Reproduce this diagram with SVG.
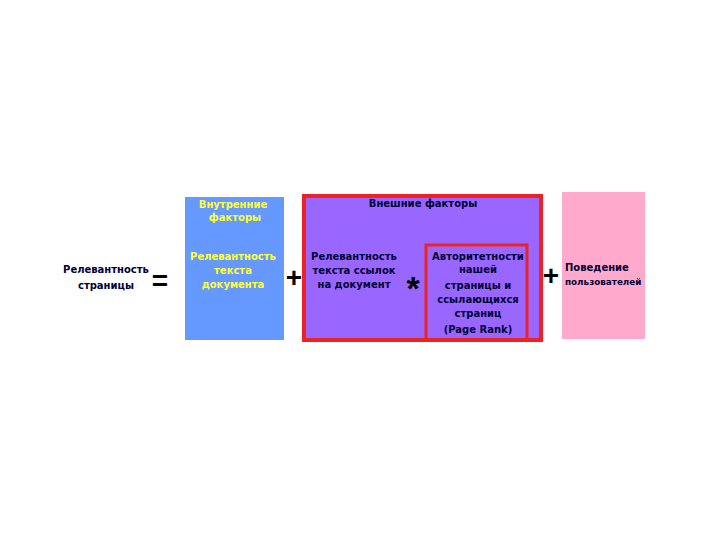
<svg xmlns="http://www.w3.org/2000/svg" width="720" height="540" viewBox="0 0 720 540">
<style>
text{font-family:"DejaVu Sans","Liberation Sans",sans-serif;font-weight:bold;font-size:10px;text-anchor:middle;fill:#000033}
.y{fill:#ffff33}
.op{font-family:"Liberation Sans",sans-serif;font-size:28px;fill:#000}
.l{text-anchor:start}
</style>
<rect width="720" height="540" fill="#fff"/>
<g id="relevance">
<text x="106" y="273">Релевантность</text>
<text x="106" y="289">страницы</text>
</g>
<g id="internal">
<rect x="185" y="197" width="99" height="143" fill="#6699ff"/>
<text class="y" x="233" y="208">Внутренние</text>
<text class="y" x="235" y="221">факторы</text>
<text class="y" x="233" y="260">Релевантность</text>
<text class="y" x="233" y="274">текста</text>
<text class="y" x="233" y="288">документа</text>
</g>
<g id="external">
<rect x="304" y="196" width="237" height="144" fill="#9966ff" stroke="#ee2222" stroke-width="4"/>
<text x="423" y="207">Внешние факторы</text>
<text x="354" y="260">Релевантность</text>
<text x="354" y="274">текста ссылок</text>
<text x="354" y="288">на документ</text>
</g>
<g id="authority">
<rect x="426" y="245" width="101" height="95" fill="none" stroke="#ee2222" stroke-width="3"/>
<text x="478" y="260">Авторитетности</text>
<text x="478" y="273">нашей</text>
<text x="478" y="289">страницы и</text>
<text x="478" y="303">ссылающихся</text>
<text x="478" y="317">страниц</text>
<text x="478" y="333">(Page Rank)</text>
</g>
<g id="behavior">
<rect x="562" y="192" width="83" height="147" fill="#ffaacc"/>
<text class="l" x="565" y="271">Поведение</text>
<text class="l" x="565" y="285" style="font-size:8.8px">пользователей</text>
</g>
<g id="operators">
<text class="op" x="160" y="290">=</text>
<text class="op" x="294" y="287">+</text>
<text class="op" x="413" y="300" style="font-size:34px">*</text>
<text class="op" x="551" y="285">+</text>
</g>
</svg>
